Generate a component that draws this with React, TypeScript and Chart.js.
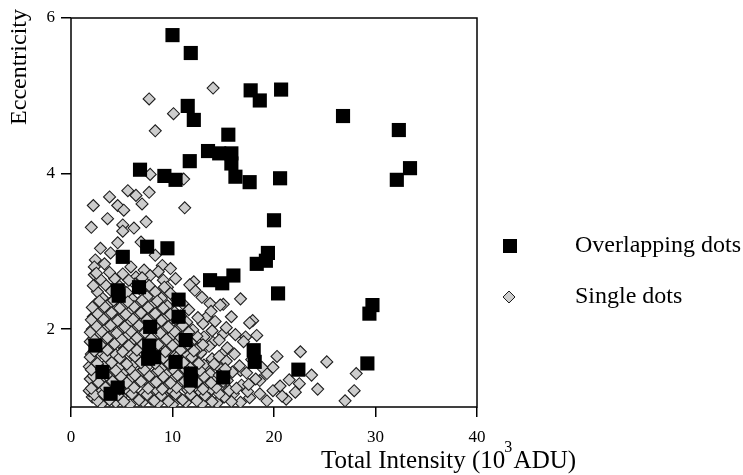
import React, { useEffect, useRef } from 'react';
import { Chart, registerables } from 'chart.js';

Chart.register(...registerables);

const xTicks = [0, 10, 20, 30, 40];
const yTicks = [2, 4, 6];
const seriesNames = ['Overlapping dots', 'Single dots'];
const xAxisTitle = ['Total Intensity (10', '3', ' ADU)'];
const yAxisTitle = 'Eccentricity';

const overlappingDots: [number, number][] = [
  [10.0, 5.78], [11.8, 5.55], [17.7, 5.07], [18.6, 4.94], [20.7, 5.08], [11.5, 4.87], [12.1, 4.69],
  [26.8, 4.74], [32.3, 4.56], [15.5, 4.5], [6.8, 4.05], [11.7, 4.16], [13.5, 4.29], [14.6, 4.26],
  [15.8, 4.26], [15.8, 4.13], [16.2, 3.96], [17.6, 3.89], [9.2, 3.97], [10.3, 3.92], [20.6, 3.94],
  [33.4, 4.07], [32.1, 3.92], [20.0, 3.4], [7.5, 3.06], [9.5, 3.04], [5.1, 2.93], [19.4, 2.98],
  [18.3, 2.84], [19.2, 2.88], [16.0, 2.69], [13.7, 2.63], [14.9, 2.59], [4.6, 2.5], [6.7, 2.54],
  [4.7, 2.43], [20.4, 2.46], [10.6, 2.38], [10.6, 2.16], [29.7, 2.31], [29.4, 2.2], [7.8, 2.03],
  [2.4, 1.79], [7.7, 1.79], [11.3, 1.86], [18.0, 1.73], [18.1, 1.58], [8.2, 1.64], [7.6, 1.62],
  [10.3, 1.58], [29.2, 1.56], [22.4, 1.48], [3.1, 1.45], [11.8, 1.43], [15.0, 1.38], [11.8, 1.34],
  [4.6, 1.25], [3.9, 1.17],
];

const singleDots: [number, number][] = [
  // sparse upper part
  [14.0, 5.1], [7.7, 4.96], [10.1, 4.77], [8.3, 4.55], [7.8, 3.99], [11.1, 3.93], [7.7, 3.76],
  [5.6, 3.78], [6.4, 3.72], [3.8, 3.7], [7.0, 3.61], [4.6, 3.59], [5.2, 3.53], [2.2, 3.59],
  [11.2, 3.56], [3.6, 3.42], [7.4, 3.38], [2.0, 3.31], [5.1, 3.34], [5.1, 3.26], [6.2, 3.3],
  [6.9, 3.12], [4.6, 3.11], [2.9, 3.04], [3.9, 2.98], [2.4, 2.89], [2.3, 2.8], [3.3, 2.84],
  [2.3, 2.7], [8.3, 2.95], [9.0, 2.82], [9.8, 2.78], [10.3, 2.65], [9.1, 2.63], [9.5, 2.54],
  [12.1, 2.61], [12.2, 2.5], [7.2, 2.76], [5.9, 2.8], [6.4, 2.67], [7.8, 2.69],
  // right-hand tail
  [13.7, 2.33], [15.0, 2.32], [16.7, 2.39], [15.8, 2.16], [17.9, 2.11], [13.4, 2.16], [13.9, 1.98],
  [15.0, 1.94], [17.2, 1.9], [18.3, 1.92], [14.9, 1.68], [20.3, 1.65], [22.6, 1.71], [25.2, 1.58],
  [23.7, 1.41], [24.3, 1.23], [22.5, 1.3], [28.1, 1.43], [27.9, 1.21], [27.0, 1.08], [19.9, 1.51],
  [19.3, 1.43], [18.6, 1.34], [19.9, 1.21], [21.2, 1.1], [16.7, 1.47], [16.8, 1.28], [16.0, 1.17],
  [16.7, 1.06], [13.7, 1.21], [14.7, 1.1], [12.7, 1.68], [13.1, 1.9], [14.0, 1.83], [13.4, 1.53],
  [18.6, 1.17], [19.3, 1.08],
  // dense cluster
  [3.0, 1.04], [4.4, 1.06], [5.8, 1.03], [7.1, 1.07], [8.6, 1.05], [10.0, 1.03], [11.3, 1.06],
  [12.9, 1.04], [14.4, 1.05], [15.8, 1.07],
  [2.1, 1.13], [3.6, 1.11], [5.0, 1.14], [6.5, 1.12], [7.9, 1.1], [9.3, 1.13], [10.7, 1.12],
  [12.1, 1.14], [13.6, 1.11], [15.1, 1.13], [17.6, 1.12], [20.8, 1.14],
  [1.8, 1.21], [2.9, 1.19], [4.3, 1.22], [5.7, 1.2], [7.2, 1.18], [8.5, 1.21], [10.0, 1.2],
  [11.5, 1.22], [12.8, 1.19], [15.6, 1.21], [17.4, 1.2], [22.1, 1.19],
  [2.4, 1.28], [3.7, 1.3], [5.1, 1.27], [6.4, 1.29], [7.8, 1.28], [9.2, 1.26], [10.6, 1.29],
  [11.9, 1.27], [13.3, 1.3], [14.8, 1.28], [17.5, 1.29], [20.6, 1.27],
  [1.9, 1.36], [3.1, 1.37], [4.6, 1.35], [6.0, 1.38], [7.3, 1.36], [8.8, 1.34], [10.1, 1.37],
  [11.4, 1.35], [12.6, 1.38], [14.0, 1.36], [15.4, 1.34], [18.2, 1.36], [21.5, 1.35],
  [2.6, 1.44], [4.0, 1.43], [5.3, 1.46], [6.8, 1.44], [8.2, 1.42], [9.6, 1.45], [11.0, 1.44],
  [12.3, 1.46], [13.7, 1.43], [15.9, 1.45], [17.3, 1.44],
  [1.8, 1.52], [3.3, 1.53], [4.7, 1.51], [6.1, 1.54], [7.5, 1.52], [8.9, 1.5], [10.3, 1.53],
  [11.7, 1.51], [13.1, 1.54], [14.5, 1.52], [16.6, 1.53], [18.8, 1.51],
  [2.3, 1.6], [3.8, 1.61], [5.2, 1.59], [6.6, 1.62], [8.0, 1.6], [9.4, 1.58], [10.8, 1.61],
  [12.2, 1.6], [13.9, 1.62], [15.3, 1.59], [17.8, 1.61],
  [2.0, 1.68], [3.0, 1.7], [4.4, 1.67], [5.9, 1.69], [7.2, 1.68], [8.7, 1.66], [10.1, 1.69],
  [11.5, 1.67], [12.8, 1.7], [16.1, 1.68],
  [2.5, 1.76], [3.9, 1.77], [5.4, 1.75], [6.8, 1.78], [8.3, 1.76], [9.7, 1.74], [11.2, 1.77],
  [12.5, 1.75], [13.6, 1.78], [15.4, 1.76],
  [1.9, 1.84], [3.2, 1.85], [4.7, 1.83], [6.1, 1.86], [7.6, 1.84], [9.0, 1.82], [10.5, 1.85],
  [11.8, 1.83], [14.6, 1.86], [17.0, 1.84],
  [2.6, 1.92], [4.1, 1.93], [5.5, 1.91], [6.9, 1.94], [8.4, 1.92], [9.8, 1.9], [11.1, 1.93],
  [12.4, 1.91], [16.2, 1.93],
  [2.1, 2.0], [3.4, 2.01], [4.9, 1.99], [6.3, 2.02], [7.7, 2.0], [9.1, 1.98], [10.6, 2.01],
  [12.0, 1.99], [15.3, 2.02],
  [2.8, 2.08], [4.2, 2.09], [5.7, 2.07], [7.1, 2.1], [8.6, 2.08], [9.9, 2.06], [11.4, 2.09],
  [13.0, 2.07], [14.2, 2.1], [17.6, 2.08],
  [2.2, 2.16], [3.6, 2.17], [5.0, 2.15], [6.5, 2.18], [7.9, 2.16], [9.3, 2.14], [10.8, 2.17],
  [12.5, 2.15],
  [2.9, 2.24], [4.4, 2.25], [5.8, 2.23], [7.2, 2.26], [8.7, 2.24], [10.2, 2.22], [11.6, 2.25],
  [13.8, 2.23],
  [2.4, 2.32], [3.8, 2.33], [5.3, 2.31], [6.7, 2.34], [8.1, 2.32], [9.5, 2.3], [11.0, 2.33],
  [14.7, 2.31],
  [3.1, 2.4], [4.6, 2.41], [6.0, 2.39], [7.5, 2.42], [8.9, 2.4], [10.4, 2.38], [12.9, 2.41],
  [2.6, 2.48], [4.0, 2.49], [5.5, 2.47], [6.9, 2.5], [8.3, 2.48], [9.8, 2.46],
  [2.2, 2.56], [3.4, 2.57], [4.8, 2.55], [6.3, 2.58], [7.7, 2.56], [9.2, 2.54], [11.7, 2.57],
  [2.9, 2.64], [4.3, 2.65], [5.7, 2.63], [7.0, 2.66], [2.5, 2.72], [3.8, 2.73], [5.1, 2.71],
  [8.6, 2.74],
];

// additional points filling the core of the cluster
const singleDotsCore: [number, number][] = [
  [2.6, 1.08], [3.8, 1.09], [5.2, 1.07], [6.7, 1.09], [8.2, 1.08], [9.6, 1.07], [11.0, 1.09], [12.4, 1.08], [13.9, 1.07],
  [2.3, 1.16], [3.2, 1.17], [4.6, 1.15], [6.0, 1.17], [7.5, 1.16], [8.9, 1.15], [10.3, 1.17], [11.8, 1.16], [13.2, 1.15], [14.6, 1.17],
  [2.0, 1.24], [3.4, 1.25], [4.8, 1.23], [6.2, 1.25], [7.6, 1.24], [9.0, 1.23], [10.4, 1.25], [11.7, 1.24], [13.0, 1.23], [14.3, 1.25], [16.3, 1.24],
  [2.7, 1.32], [4.1, 1.33], [5.5, 1.31], [6.9, 1.33], [8.4, 1.32], [9.8, 1.31], [11.2, 1.33], [12.4, 1.32], [13.8, 1.31], [15.0, 1.33],
  [2.2, 1.4], [3.5, 1.41], [4.9, 1.39], [6.3, 1.41], [7.7, 1.4], [9.1, 1.39], [10.5, 1.41], [11.8, 1.4], [13.1, 1.39], [14.6, 1.41],
  [2.0, 1.48], [3.0, 1.49], [4.4, 1.47], [5.8, 1.49], [7.2, 1.48], [8.6, 1.47], [10.0, 1.49], [11.3, 1.48], [12.7, 1.47], [15.2, 1.49],
  [2.6, 1.56], [4.0, 1.57], [5.5, 1.55], [6.9, 1.57], [8.3, 1.56], [9.7, 1.55], [11.1, 1.57], [12.6, 1.56], [14.1, 1.55],
  [1.9, 1.64], [3.4, 1.65], [4.8, 1.63], [6.3, 1.65], [7.7, 1.64], [9.1, 1.63], [10.5, 1.65], [11.9, 1.64], [14.6, 1.65],
  [2.3, 1.72], [3.6, 1.73], [5.1, 1.71], [6.5, 1.73], [7.9, 1.72], [9.3, 1.71], [10.8, 1.73], [12.1, 1.72],
  [2.9, 1.8], [4.3, 1.81], [5.7, 1.79], [7.1, 1.81], [8.6, 1.8], [10.0, 1.79], [11.5, 1.81], [13.0, 1.8],
  [2.2, 1.88], [3.6, 1.89], [5.0, 1.87], [6.5, 1.89], [7.9, 1.88], [9.4, 1.87], [10.8, 1.89],
  [1.9, 1.96], [3.0, 1.97], [4.5, 1.95], [5.9, 1.97], [7.3, 1.96], [8.8, 1.95], [10.2, 1.97], [11.6, 1.96],
  [2.5, 2.04], [3.9, 2.05], [5.3, 2.03], [6.7, 2.05], [8.2, 2.04], [9.6, 2.03], [11.0, 2.05],
  [2.0, 2.12], [3.2, 2.13], [4.6, 2.11], [6.1, 2.13], [7.5, 2.12], [8.9, 2.11], [10.3, 2.13],
  [2.6, 2.2], [4.0, 2.21], [5.4, 2.19], [6.9, 2.21], [8.3, 2.2], [9.8, 2.19],
  [2.1, 2.28], [3.3, 2.29], [4.8, 2.27], [6.2, 2.29], [7.6, 2.28], [9.1, 2.27],
  [2.8, 2.36], [4.2, 2.37], [5.6, 2.35], [7.0, 2.37], [8.5, 2.36],
];

const SERIF = "'Liberation Serif', 'Times New Roman', serif";
const DIAMOND_FILL = '#cdcdcd';
const DIAMOND_EDGE = '#1e1e1e';

const decorPlugin = {
  id: 'decor',
  beforeDatasetsDraw(chart: any) {
    const { ctx, chartArea } = chart;
    ctx.save();
    ctx.strokeStyle = '#000';
    ctx.lineWidth = 1.5;
    ctx.strokeRect(chartArea.left, chartArea.top, chartArea.right - chartArea.left, chartArea.bottom - chartArea.top);
    ctx.restore();
  },
  afterDraw(chart: any) {
    const { ctx } = chart;
    ctx.save();
    ctx.fillStyle = '#000';
    // y axis title
    ctx.font = `24px ${SERIF}`;
    ctx.save();
    ctx.translate(20, 9);
    ctx.rotate(-Math.PI / 2);
    ctx.textAlign = 'right';
    ctx.textBaseline = 'middle';
    ctx.fillText(yAxisTitle, 0, 0);
    ctx.restore();
    // x axis title with superscript
    ctx.textAlign = 'left';
    ctx.textBaseline = 'alphabetic';
    let x = 321;
    const base = 468;
    ctx.font = `25px ${SERIF}`;
    ctx.fillText(xAxisTitle[0], x, base);
    x += ctx.measureText(xAxisTitle[0]).width;
    ctx.font = `16px ${SERIF}`;
    ctx.fillText(xAxisTitle[1], x - 1, base - 16);
    ctx.font = `25px ${SERIF}`;
    ctx.fillText(xAxisTitle[2], x + 2, base);
    // legend
    ctx.font = `24px ${SERIF}`;
    ctx.textBaseline = 'middle';
    ctx.fillStyle = '#000';
    ctx.fillRect(503, 239, 14, 14);
    ctx.fillText(seriesNames[0], 575, 246);
    ctx.beginPath();
    ctx.moveTo(509, 291);
    ctx.lineTo(515, 297);
    ctx.lineTo(509, 303);
    ctx.lineTo(503, 297);
    ctx.closePath();
    ctx.fillStyle = DIAMOND_FILL;
    ctx.fill();
    ctx.strokeStyle = DIAMOND_EDGE;
    ctx.lineWidth = 1;
    ctx.stroke();
    ctx.fillStyle = '#000';
    ctx.fillText(seriesNames[1], 575, 297);
    ctx.restore();
  },
};

export default function App() {
  const ref = useRef<HTMLCanvasElement | null>(null);
  useEffect(() => {
    if (!ref.current) return;
    const chart = new Chart(ref.current, {
      type: 'scatter',
      data: {
        datasets: [
          {
            label: seriesNames[0],
            data: overlappingDots.map(([x, y]) => ({ x, y })),
            pointStyle: 'rect',
            pointRadius: 10,
            backgroundColor: '#000',
            borderColor: '#000',
            borderWidth: 0,
          },
          {
            label: seriesNames[1],
            data: [...singleDots, ...singleDotsCore].map(([x, y]) => ({ x, y })),
            pointStyle: 'rectRot',
            pointRadius: 6,
            backgroundColor: DIAMOND_FILL,
            borderColor: DIAMOND_EDGE,
            borderWidth: 1.1,
          },
        ],
      },
      options: {
        responsive: false,
        animation: false,
        devicePixelRatio: 1,
        events: [],
        layout: { padding: { top: 18, right: 266, bottom: 0, left: 0 } },
        plugins: { legend: { display: false }, tooltip: { enabled: false } },
        scales: {
          x: {
            type: 'linear',
            min: 0,
            max: 40,
            afterBuildTicks: (s: any) => { s.ticks = xTicks.map((v) => ({ value: v })); },
            afterFit: (s: any) => { s.height = 68; },
            ticks: { font: { family: SERIF, size: 17 }, color: '#000', padding: 10, maxRotation: 0, autoSkip: false },
            grid: { display: true, drawOnChartArea: false, drawTicks: true, tickLength: 10, color: '#000', lineWidth: 1.5 },
            border: { display: false },
          },
          y: {
            type: 'linear',
            min: 1,
            max: 6,
            afterBuildTicks: (s: any) => { s.ticks = yTicks.map((v) => ({ value: v })); },
            afterFit: (s: any) => { s.width = 71; },
            ticks: { font: { family: SERIF, size: 17 }, color: '#000', padding: 6, autoSkip: false },
            grid: { display: true, drawOnChartArea: false, drawTicks: true, tickLength: 10, color: '#000', lineWidth: 1.5 },
            border: { display: false },
          },
        },
      },
      plugins: [decorPlugin],
    });
    return () => chart.destroy();
  }, []);
  return (
    <div style={{ position: 'absolute', left: 0, top: 0 }}>
      <canvas ref={ref} width={743} height={475} style={{ display: 'block', width: 743, height: 475 }} />
    </div>
  );
}
